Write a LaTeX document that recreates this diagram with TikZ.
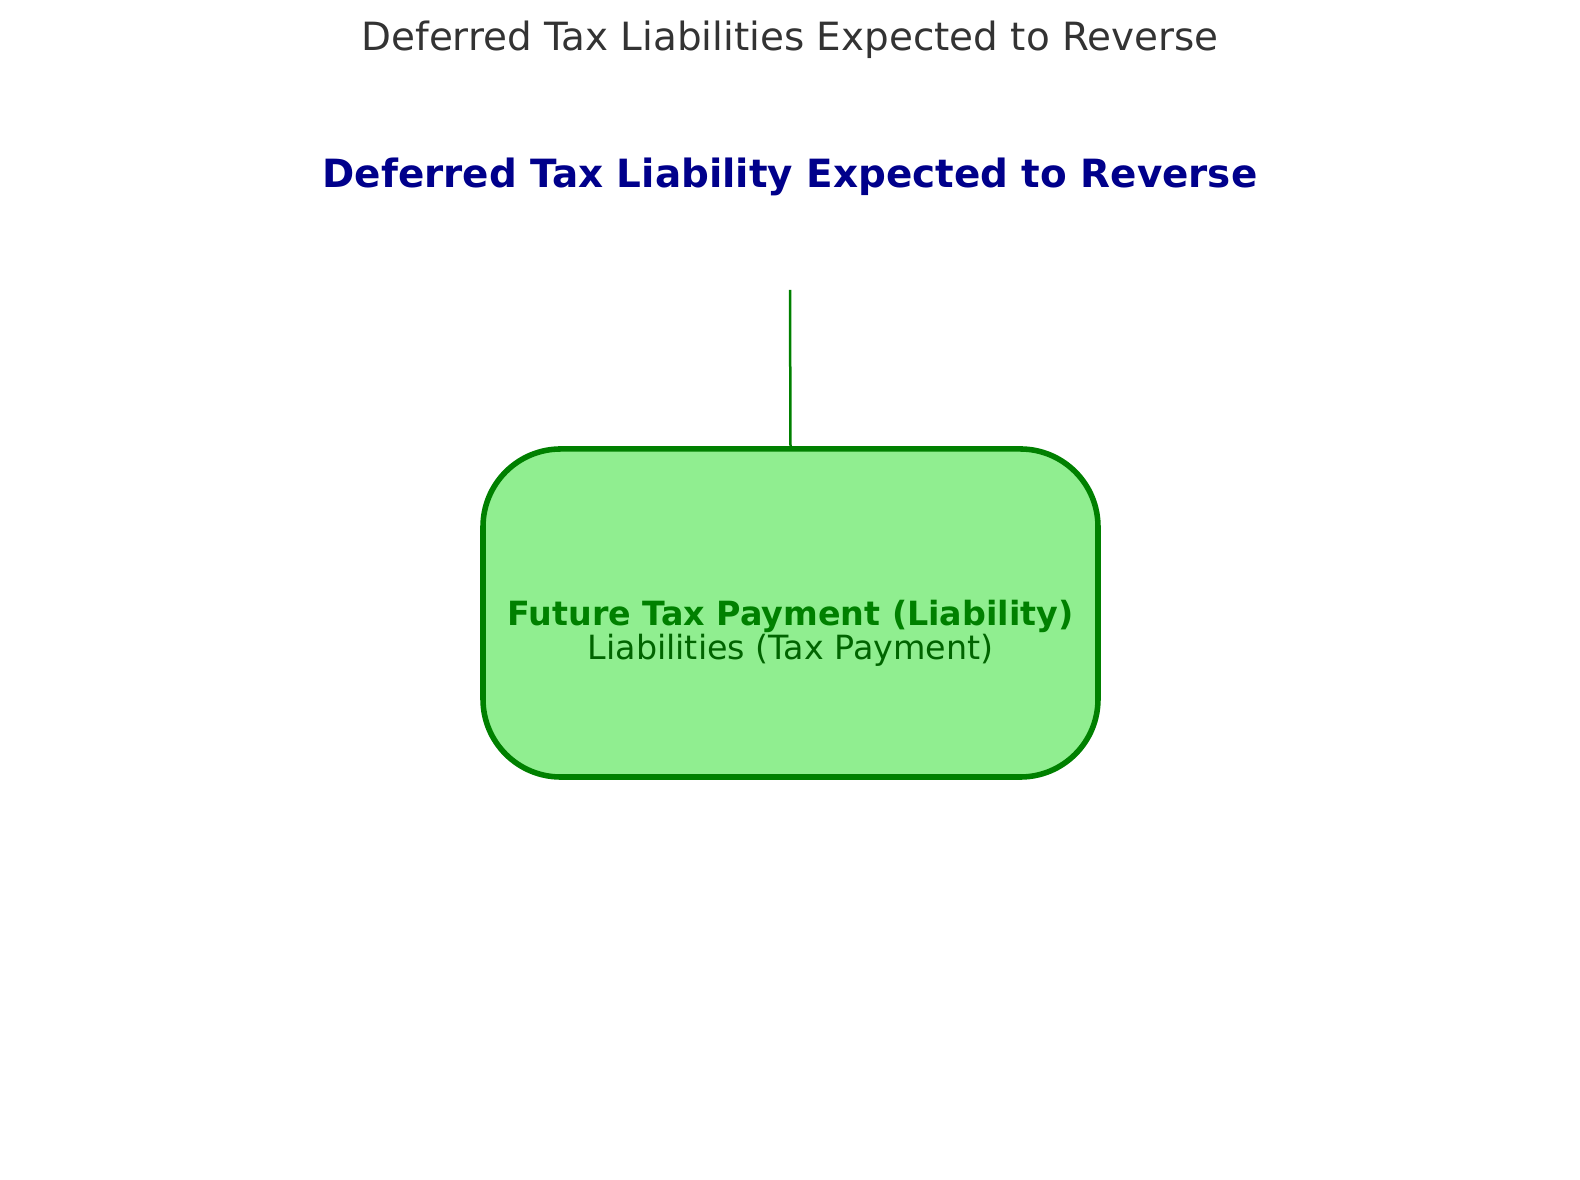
\documentclass[tikz,border=0pt]{standalone}
\usepackage{fontspec}
\setmainfont{DejaVu Sans}
\usepackage{xcolor}
\usetikzlibrary{positioning}
\definecolor{titlegray}{HTML}{333333}
\definecolor{headblue}{HTML}{00008B}
\definecolor{boxfill}{HTML}{90EE90}
\definecolor{boxline}{HTML}{008000}
\definecolor{subgreen}{HTML}{006400}

\begin{document}
\begin{tikzpicture}[x=0.36pt,y=-0.36pt,
charttitle/.style={text=titlegray,font=\fontsize{14}{17}\selectfont},
heading/.style={text=headblue,font=\bfseries\fontsize{14}{17}\selectfont},
liabbox/.style={draw=boxline,fill=boxfill,line width=2pt,rounded corners=28pt,
  minimum width=221.4pt,minimum height=118.1pt},
boxtext/.style={align=center,font=\fontsize{12}{11.6}\selectfont},
myedge/.style={draw=boxline,line width=0.9pt}]
\useasboundingbox (0,0) rectangle (1580,1180);
\node[charttitle] (title) at (790,40) {Deferred Tax Liabilities Expected to Reverse};
\node[heading] (head) at (790,177) {Deferred Tax Liability Expected to Reverse};
\node[liabbox] (fut) at (790.5,613) {};
\node[boxtext] (futtext) at ([yshift=-7.2pt]fut.center)
  {\textcolor{boxline}{\bfseries Future Tax Payment (Liability)}\\[-0.4pt]
   \textcolor{subgreen}{Liabilities (Tax Payment)}};
\coordinate (top) at (790,290);
\draw[myedge] (top) -- (fut.north);
\end{tikzpicture}
\end{document}
